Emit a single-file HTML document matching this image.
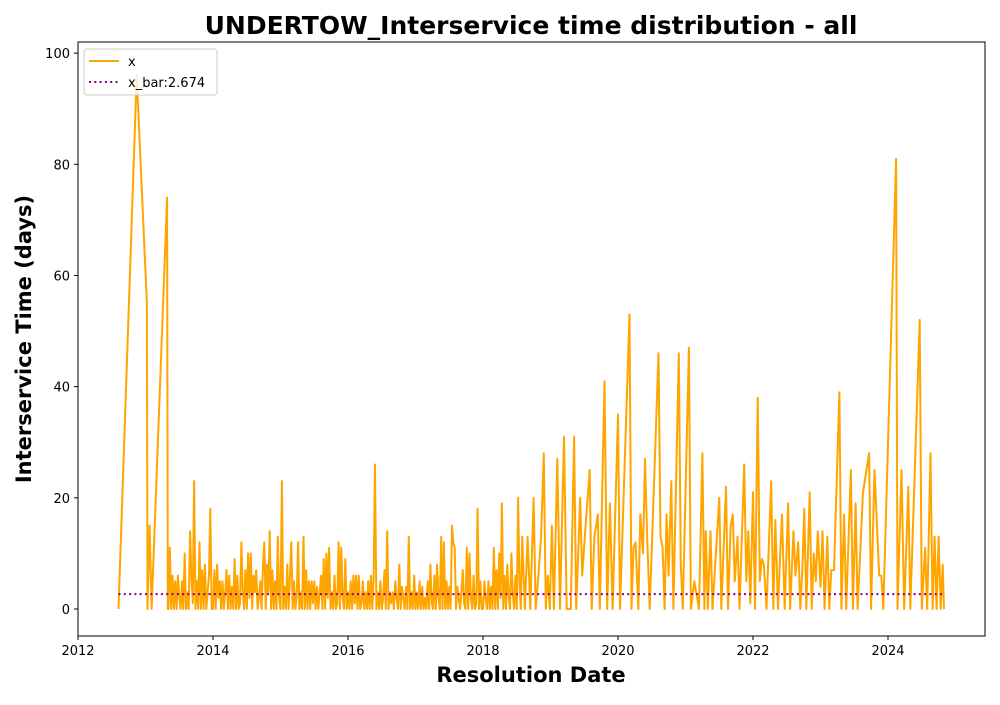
<!DOCTYPE html>
<html><head><meta charset="utf-8"><style>
body{margin:0;background:#fff;font-family:"Liberation Sans","DejaVu Sans",sans-serif}
svg text{font-family:"DejaVu Sans","Liberation Sans",sans-serif}
</style></head><body>
<svg id="chart" width="1000" height="700" xmlns="http://www.w3.org/2000/svg">
<rect width="1000" height="700" fill="#fff"/>
<text x="531" y="34" font-size="25" font-weight="bold" text-anchor="middle">UNDERTOW_Interservice time distribution - all</text>
<g id="series"></g>
<g id="axes"></g>
<text x="531" y="682" font-size="21" font-weight="bold" text-anchor="middle">Resolution Date</text>
<text transform="translate(31,339) rotate(-90)" font-size="21" font-weight="bold" text-anchor="middle">Interservice Time (days)</text>
<g>
<rect x="84" y="49" width="133" height="46" rx="3" fill="#fff" fill-opacity="0.8" stroke="#ccc"/>
<line x1="89" y1="61" x2="119" y2="61" stroke="orange" stroke-width="2"/>
<text x="128" y="66" font-size="13">x</text>
<line x1="89" y1="82" x2="119" y2="82" stroke="purple" stroke-width="2" stroke-dasharray="2,3.3"/>
<text x="128" y="87" font-size="13">x_bar:2.674</text>
</g>
</svg>
<script>
const xTicks=[2012,2014,2016,2018,2020,2022,2024];
const yTicks=[0,20,40,60,80,100];
const meanValue=2.674;
const earlyDates=[2012.6,2012.87,2013.02,2013.03,2013.06,2013.09,2013.32,2013.33];
const earlyValues=[0,96,55,0,15,0,74,0];
const y2013Values=[0,11,0,6,0,5,0,6,2,0,5,0,10,0,3,0,14,6,1,23,0,5,0,12,0,7,0,8,0,3,6,18,0];
const y2014Values=[0,7,0,8,2,5,0,5,0,3,7,0,6,0,4,0,9,0,6,0,1,12,3,0,7,0,10,2,10,0,6,3,7,0,2,5,0,8,12,0,8,3,14,0,7,0,5,0,13,2];
const y2015Values=[0,23,0,4,0,8,0,6,12,0,5,0,2,12,0,3,0,13,0,7,0,5,0,5,1,5,0,4,0,3,6,0,9,0,10,2,11,0,3,0,6,0,1,12,0,11,2,0,9,0];
const y2016Values=[3,0,5,0,6,1,6,0,6,0,1,5,0,3,0,5,0,6,0,6,26,0,3,0,5,0,2,7,0,14,0,3,1,3,0,5,2,0,8,0,4,2,0,4,0,13,0,3,0,6];
const y2017Values=[0,3,0,5,0,4,0,2,0,5,0,8,1,0,6,0,8,2,0,13,0,12,0,5,0,4,0,15,12,11,0,4,2,0,3,7,1,0,11,0,10,2,0,6,0,1,18,0,5,0];
const y2018Values=[0,5,2,0,5,0,4,0,11,0,7,0,10,2,19,0,6,0,8,2,0,10,3,0,6,0,20,5,0,13];
const lateDates=[2018.62,2018.66,2018.7,2018.75,2018.78,2018.82,2018.86,2018.9,2018.93,2018.96,2018.99,2019.02,2019.05,2019.1,2019.14,2019.2,2019.24,2019.3,2019.35,2019.38,2019.41,2019.44,2019.47,2019.52,2019.58,2019.61,2019.65,2019.7,2019.73,2019.8,2019.84,2019.88,2019.92,2020.0,2020.03,2020.17,2020.2,2020.23,2020.26,2020.3,2020.33,2020.37,2020.4,2020.43,2020.47,2020.6,2020.63,2020.66,2020.69,2020.72,2020.75,2020.79,2020.82,2020.9,2020.93,2020.96,2021.05,2021.08,2021.13,2021.2,2021.25,2021.28,2021.3,2021.33,2021.37,2021.4,2021.45,2021.5,2021.53,2021.6,2021.63,2021.67,2021.7,2021.73,2021.77,2021.8,2021.87,2021.9,2021.93,2021.96,2022.0,2022.03,2022.07,2022.1,2022.13,2022.16,2022.2,2022.27,2022.3,2022.33,2022.37,2022.4,2022.43,2022.47,2022.52,2022.55,2022.6,2022.63,2022.67,2022.7,2022.73,2022.76,2022.79,2022.84,2022.87,2022.9,2022.93,2022.96,2023.0,2023.03,2023.06,2023.1,2023.13,2023.16,2023.2,2023.28,2023.31,2023.35,2023.38,2023.45,2023.48,2023.52,2023.55,2023.63,2023.72,2023.75,2023.8,2023.87,2023.9,2023.93,2024.12,2024.14,2024.2,2024.24,2024.3,2024.33,2024.47,2024.5,2024.55,2024.58,2024.63,2024.66,2024.69,2024.72,2024.75,2024.78,2024.81,2024.83];
const lateValues=[0,13,0,20,0,6,13,28,0,6,0,15,0,27,0,31,0,0,31,0,10,20,6,15,25,0,13,17,0,41,0,19,0,35,0,53,0,11,12,0,17,10,27,14,0,46,13,11,0,17,6,23,0,46,8,0,47,0,5,0,28,0,14,0,14,0,10,20,0,22,0,15,17,5,13,0,26,5,14,1,21,0,38,5,9,8,0,23,0,16,0,9,17,0,19,0,14,6,12,0,7,18,0,21,0,10,5,14,4,14,0,13,0,7,7,39,0,17,0,25,0,19,0,21,28,0,25,6,6,0,81,0,25,0,22,0,52,0,11,0,28,0,13,0,13,0,8,0];

const L=78,R=985,T=42,B=636,X0=2012,X1=2025.437,Y0=-4.86,Y1=102.0;
const sx=v=>L+(v-X0)/(X1-X0)*(R-L);
const sy=v=>B-(v-Y0)/(Y1-Y0)*(B-T);
const NS="http://www.w3.org/2000/svg";
function mk(tag,attrs,parent){const e=document.createElementNS(NS,tag);for(const k in attrs)e.setAttribute(k,attrs[k]);parent.appendChild(e);return e;}

let dates=[...earlyDates],vals=[...earlyValues];
const dense=[[2013.34,2014.0,y2013Values],[2014.0,2015.0,y2014Values],[2015.0,2016.0,y2015Values],[2016.0,2017.0,y2016Values],[2017.0,2018.0,y2017Values],[2018.0,2018.6,y2018Values]];
dense.forEach(([a,b,arr])=>{arr.forEach((v,i)=>{dates.push(a+(b-a)*i/arr.length);vals.push(v);});});
lateDates.forEach((d,i)=>{dates.push(d);vals.push(lateValues[i]);});

const g=document.getElementById('series');
const pts=dates.map((d,i)=>sx(d).toFixed(1)+','+sy(vals[i]).toFixed(1)).join(' ');
const line=mk('polyline',{points:pts,fill:'none',stroke:'orange','stroke-width':2,'stroke-linejoin':'round'},g);


const mean=mk('line',{x1:sx(dates[0]),x2:sx(dates[dates.length-1]),y1:sy(meanValue),y2:sy(meanValue),stroke:'purple','stroke-width':2,'stroke-dasharray':'2,3.3'},g);



const ax=document.getElementById('axes');
mk('rect',{x:L,y:T,width:R-L,height:B-T,fill:'none',stroke:'#000','stroke-width':1},ax);
xTicks.forEach(t=>{
  const x=sx(t);
  mk('line',{x1:x,x2:x,y1:B,y2:B+4,stroke:'#000'},ax);
  const tx=mk('text',{x:x,y:B+19,'font-size':13,'text-anchor':'middle'},ax);
  tx.textContent=t;
  
  
});
yTicks.forEach(t=>{
  const y=sy(t);
  mk('line',{x1:L-4,x2:L,y1:y,y2:y,stroke:'#000'},ax);
  const tx=mk('text',{x:L-8,y:y+5,'font-size':13,'text-anchor':'end'},ax);
  tx.textContent=t;
  
  
});
</script>
</body></html>
